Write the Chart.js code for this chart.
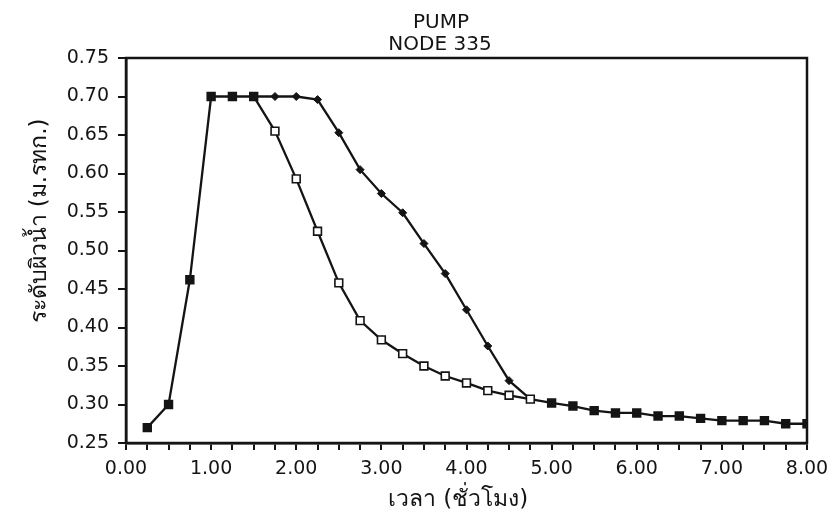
<!DOCTYPE html>
<html>
<head>
<meta charset="utf-8">
<title>PUMP NODE 335</title>
<script src="https://cdn.jsdelivr.net/npm/chart.js@4.4.1/dist/chart.umd.min.js"></script>
<style>
  html, body { margin: 0; padding: 0; background: #fff; }
  #wrap { width: 840px; height: 524px; position: relative; }
</style>
</head>
<body>
<div id="wrap"><canvas id="levelChart"></canvas></div>
<script>
// เวลา (ชั่วโมง)
const hours = [0.25, 0.50, 0.75, 1.00, 1.25, 1.50, 1.75, 2.00, 2.25, 2.50, 2.75, 3.00,
               3.25, 3.50, 3.75, 4.00, 4.25, 4.50, 4.75, 5.00, 5.25, 5.50, 5.75, 6.00,
               6.25, 6.50, 6.75, 7.00, 7.25, 7.50, 7.75, 8.00];
// ระดับผิวน้ำ, main curve (square markers)
const levelSquare = [0.270, 0.300, 0.462, 0.700, 0.700, 0.700, 0.655, 0.593, 0.525, 0.458, 0.409, 0.384,
                     0.366, 0.350, 0.337, 0.328, 0.318, 0.312, 0.307, 0.302, 0.298, 0.292, 0.289, 0.289,
                     0.285, 0.285, 0.282, 0.279, 0.279, 0.279, 0.275, 0.275];
// second curve (diamond markers), only where it leaves the main one
const hoursDiamond = [1.50, 1.75, 2.00, 2.25, 2.50, 2.75, 3.00, 3.25, 3.50, 3.75, 4.00, 4.25, 4.50, 4.75];
const levelDiamond = [0.700, 0.700, 0.700, 0.696, 0.653, 0.605, 0.574, 0.549, 0.509, 0.470, 0.423, 0.376, 0.331, 0.307];
// hours where the square marker is drawn open
const openFrom = 1.75, openTo = 4.75;

const xTitle = 'เวลา (ชั่วโมง)';
const yTitle = 'ระดับผิวน้ำ (ม.รทก.)';
const titleLines = ['PUMP', 'NODE 335'];

const ink = '#141414';
const font = 'DejaVu Sans';

// frame around plot + headings
const framePlugin = {
  id: 'frame',
  afterDraw(chart) {
    const { ctx, chartArea: a } = chart;
    ctx.save();
    ctx.strokeStyle = ink;
    ctx.lineWidth = 2.5;
    ctx.strokeRect(a.left, a.top, a.right - a.left, a.bottom - a.top);

    ctx.fillStyle = ink;
    ctx.textAlign = 'center';
    ctx.textBaseline = 'middle';
    ctx.font = '20px "' + font + '"';
    ctx.fillText(titleLines[0], 441, 23);
    ctx.fillText(titleLines[1], 440, 45);

    ctx.font = '23px "' + font + '"';
    ctx.fillText(xTitle, 458, 500);

    ctx.translate(40, 221);
    ctx.rotate(-Math.PI / 2);
    ctx.fillText(yTitle, 0, 0);
    ctx.restore();
  }
};

const squareFill = hours.map(h => (h >= openFrom && h <= openTo) ? '#ffffff' : ink);

new Chart(document.getElementById('levelChart'), {
  type: 'line',
  data: {
    datasets: [
      {
        data: hours.map((h, i) => ({ x: h, y: levelSquare[i] })),
        borderColor: ink,
        borderWidth: 2.3,
        pointStyle: 'rect',
        pointRadius: 5.5,
        pointBorderWidth: 1.6,
        pointBorderColor: ink,
        pointBackgroundColor: squareFill,
        tension: 0
      },
      {
        data: hoursDiamond.map((h, i) => ({ x: h, y: levelDiamond[i] })),
        borderColor: ink,
        borderWidth: 2.3,
        pointStyle: 'rectRot',
        pointRadius: 4,
        pointBorderWidth: 1,
        pointBorderColor: ink,
        pointBackgroundColor: ink,
        tension: 0
      }
    ]
  },
  options: {
    responsive: true,
    maintainAspectRatio: false,
    animation: false,
    layout: { padding: { top: 58, right: 33, left: 0, bottom: 0 } },
    plugins: { legend: { display: false }, tooltip: { enabled: false } },
    scales: {
      x: {
        type: 'linear',
        min: 0, max: 8,
        afterFit: s => { s.height = 81; },
        border: { color: ink, width: 2.5 },
        grid: { drawOnChartArea: false, color: ink, lineWidth: 2, tickLength: 7 },
        ticks: {
          stepSize: 0.25,
          autoSkip: false,
          maxRotation: 0,
          padding: 8,
          color: ink,
          font: { family: font, size: 19 },
          callback: v => Number.isInteger(v) ? v.toFixed(2) : ''
        }
      },
      y: {
        min: 0.25, max: 0.75,
        afterFit: s => { s.width = 126; },
        border: { color: ink, width: 2.5 },
        grid: { drawOnChartArea: false, color: ink, lineWidth: 2, tickLength: 8 },
        ticks: {
          stepSize: 0.05,
          padding: 9,
          color: ink,
          font: { family: font, size: 19 },
          callback: v => v.toFixed(2)
        }
      }
    }
  },
  plugins: [framePlugin]
});
</script>
</body>
</html>
